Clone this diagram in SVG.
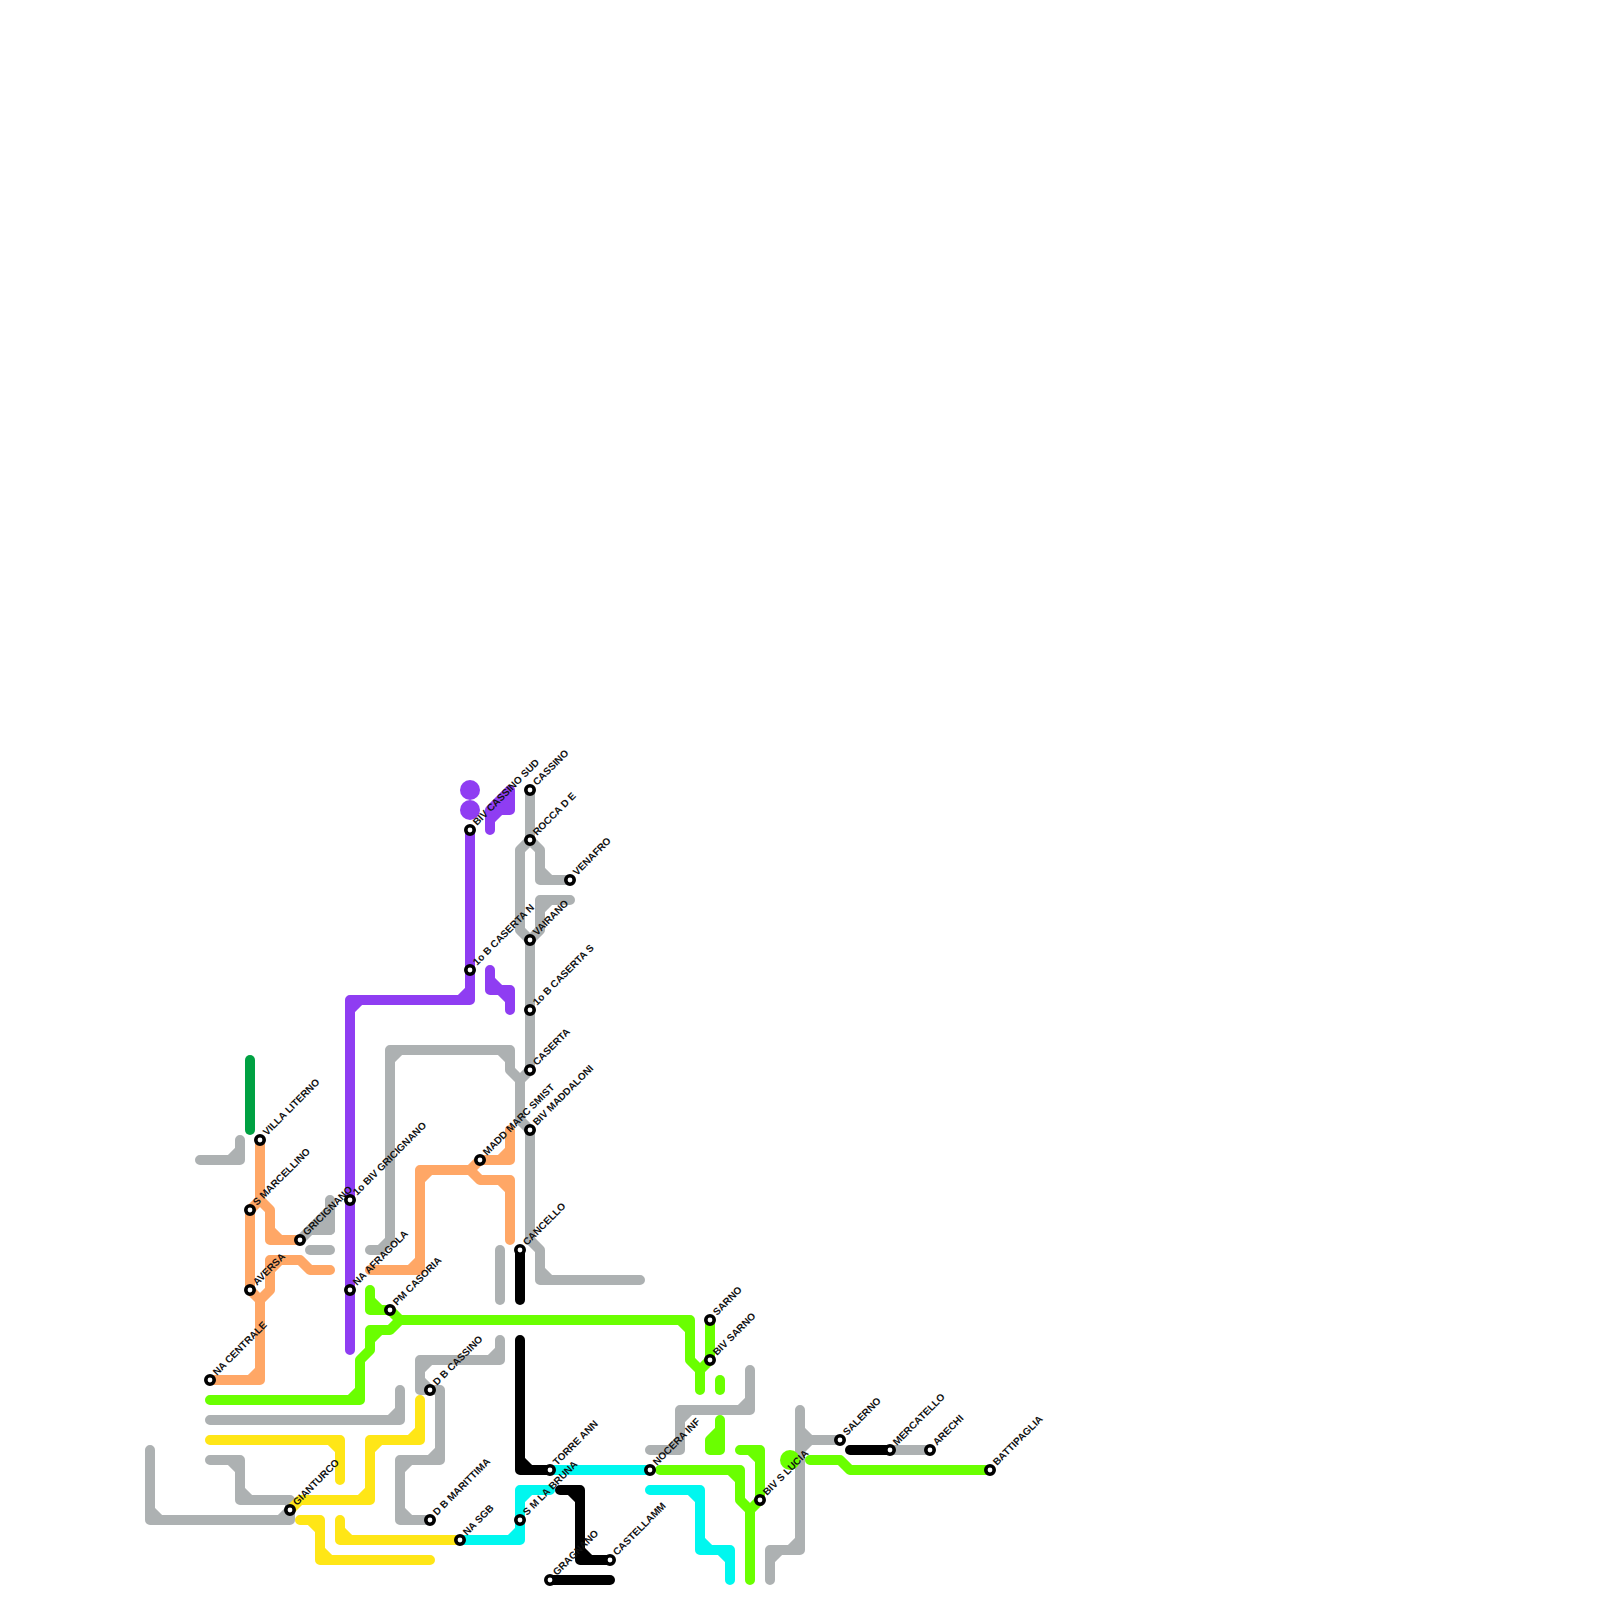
<svg xmlns="http://www.w3.org/2000/svg" width="1600" height="1600" viewBox="0 0 1600 1600">
<style>
.l{fill:none;stroke-width:10;stroke-linecap:round;stroke-linejoin:round}
.gray{stroke:#adb1b2}.orange{stroke:#ffa766}.dgreen{stroke:#00a142}.purple{stroke:#8f3df2}.green{stroke:#6aff00}.yellow{stroke:#ffe617}.cyan{stroke:#00f7ef}.black{stroke:#000}
.st{fill:#fff;stroke:#000;stroke-width:3.6}
text{font-family:"Liberation Sans",Arial,sans-serif;font-size:10px;font-weight:700;fill:#111}
</style>
<rect width="1600" height="1600" fill="#fff"/>
<g id="connectors">
<path class="l dgreen" d="M250 1060V1130"/>
<path class="l gray" d="M200 1160H240V1140M230 1160L240 1150"/>
<path class="l gray" d="M300 1240L310 1230H330V1200"/>
<path d="M310 1230L330 1210V1230Z" fill="#adb1b2" stroke="#adb1b2" stroke-width="10" stroke-linejoin="round"/>
<path class="l gray" d="M310 1250H330"/>
<path class="l gray" d="M370 1250H380L390 1240V1050H510V1070L520 1080V1120L530 1130V1240L540 1250V1280H640M390 1060L400 1050M500 1050L510 1060M540 1270L550 1280M530 1070L520 1080"/>
<path class="l gray" d="M530 790V840L520 850V930L530 940V1070M530 840L540 850V880H570M540 870L550 880M530 940L540 930V900H570M540 910L550 900"/>
<path class="l gray" d="M500 1250V1300"/>
<path class="l gray" d="M210 1420H400V1390M390 1420L400 1410"/>
<path class="l gray" d="M210 1460H240V1500H290V1520H150V1450M230 1460L240 1470M240 1490L250 1500M150 1510L160 1520M280 1520L290 1510"/>
<path class="l gray" d="M430 1520H400V1460H440V1390H420V1360H500V1340M400 1510L410 1520M400 1470L410 1460M430 1460L440 1450M490 1360L500 1350M420 1370L430 1360M420 1380L430 1390"/>
<path class="l gray" d="M650 1450H680V1410H750V1370M670 1450L680 1440M680 1420L690 1410M740 1410L750 1400"/>
<path class="l gray" d="M800 1410V1550H770V1580M790 1550L800 1540M770 1560L780 1550M800 1430L810 1440H840M810 1440L800 1450"/>
<path class="l gray" d="M890 1450H930"/>
<path class="l orange" d="M260 1140V1200L250 1210V1290L260 1300V1380H210M250 1380L260 1370"/>
<path class="l orange" d="M260 1200L270 1210V1240H300M270 1230L280 1240"/>
<path class="l orange" d="M260 1300L270 1290V1260H300L310 1270H330M270 1270L280 1260"/>
<path class="l orange" d="M370 1270H420V1170H470L480 1160H510V1130M410 1270L420 1260M420 1180L430 1170M500 1160L510 1150"/>
<path class="l orange" d="M470 1170L480 1180H510V1240M500 1180L510 1190"/>
<path class="l purple" d="M350 1350V1000H470V830M350 1010L360 1000M460 1000L470 990"/>
<path class="l purple" d="M490 830V810L510 790V810H500L490 820" style="fill:#8f3df2"/>
<path class="l purple" d="M490 970V990H510V1010M490 980L500 990M500 990L510 1000"/>
<circle cx="470" cy="790" r="10" fill="#8f3df2"/>
<circle cx="470" cy="810" r="10" fill="#8f3df2"/>
<path class="l green" d="M370 1290V1310H390L400 1320H690V1360L700 1370V1390M370 1300L380 1310M680 1320L690 1330M700 1370L710 1360V1320"/>
<path class="l green" d="M400 1320L390 1330H370V1350L360 1360V1400H210M370 1340L380 1330M350 1400L360 1390"/>
<path class="l green" d="M720 1380V1390"/>
<path class="l green" d="M720 1420V1450H710V1440L720 1430"/>
<path class="l green" d="M660 1470H740V1500L750 1510V1580M730 1470L740 1480M750 1510L760 1500V1450H740M750 1450L760 1460"/>
<circle cx="790" cy="1460" r="10" fill="#6aff00"/>
<path class="l green" d="M810 1460H840L850 1470H990"/>
<path class="l yellow" d="M210 1440H340V1480M330 1440L340 1450"/>
<path class="l yellow" d="M290 1510L300 1500H370V1440H420V1400M360 1500L370 1490M370 1450L380 1440M410 1440L420 1430"/>
<path class="l yellow" d="M300 1520H320V1560H430M310 1520L320 1530M320 1550L330 1560"/>
<path class="l yellow" d="M340 1520V1540H460M340 1530L350 1540"/>
<path class="l black" d="M520 1250V1300"/>
<path class="l black" d="M520 1340V1470H550M520 1460L530 1470"/>
<path class="l black" d="M560 1490H580V1560H610M570 1490L580 1500M580 1550L590 1560"/>
<path class="l black" d="M550 1580H610"/>
<path class="l black" d="M850 1450H890"/>
<path class="l cyan" d="M550 1470H650"/>
<path class="l cyan" d="M460 1540H520V1490H550M510 1540L520 1530M520 1500L530 1490"/>
<path class="l cyan" d="M650 1490H700V1550H730V1580M690 1490L700 1500M700 1540L710 1550M720 1550L730 1560"/>
</g>
<g id="node-villa-literno"><circle class="st" cx="260" cy="1140" r="4.2"/><text transform="translate(267 1136) rotate(-45)">VILLA LITERNO</text></g>
<g id="node-s-marcellino"><circle class="st" cx="250" cy="1210" r="4.2"/><text transform="translate(257 1206) rotate(-45)">S MARCELLINO</text></g>
<g id="node-gricignano"><circle class="st" cx="300" cy="1240" r="4.2"/><text transform="translate(307 1236) rotate(-45)">GRICIGNANO</text></g>
<g id="node-1o-biv-gricignano"><circle class="st" cx="350" cy="1200" r="4.2"/><text transform="translate(357 1196) rotate(-45)">1o BIV GRICIGNANO</text></g>
<g id="node-aversa"><circle class="st" cx="250" cy="1290" r="4.2"/><text transform="translate(257 1286) rotate(-45)">AVERSA</text></g>
<g id="node-na-afragola"><circle class="st" cx="350" cy="1290" r="4.2"/><text transform="translate(357 1286) rotate(-45)">NA AFRAGOLA</text></g>
<g id="node-pm-casoria"><circle class="st" cx="390" cy="1310" r="4.2"/><text transform="translate(397 1306) rotate(-45)">PM CASORIA</text></g>
<g id="node-na-centrale"><circle class="st" cx="210" cy="1380" r="4.2"/><text transform="translate(217 1376) rotate(-45)">NA CENTRALE</text></g>
<g id="node-gianturco"><circle class="st" cx="290" cy="1510" r="4.2"/><text transform="translate(297 1506) rotate(-45)">GIANTURCO</text></g>
<g id="node-d-b-cassino"><circle class="st" cx="430" cy="1390" r="4.2"/><text transform="translate(437 1386) rotate(-45)">D B CASSINO</text></g>
<g id="node-d-b-marittima"><circle class="st" cx="430" cy="1520" r="4.2"/><text transform="translate(437 1516) rotate(-45)">D B MARITTIMA</text></g>
<g id="node-na-sgb"><circle class="st" cx="460" cy="1540" r="4.2"/><text transform="translate(467 1536) rotate(-45)">NA SGB</text></g>
<g id="node-s-m-la-bruna"><circle class="st" cx="520" cy="1520" r="4.2"/><text transform="translate(527 1516) rotate(-45)">S M LA BRUNA</text></g>
<g id="node-torre-ann"><circle class="st" cx="550" cy="1470" r="4.2"/><text transform="translate(557 1466) rotate(-45)">TORRE ANN</text></g>
<g id="node-nocera-inf"><circle class="st" cx="650" cy="1470" r="4.2"/><text transform="translate(657 1466) rotate(-45)">NOCERA INF</text></g>
<g id="node-gragnano"><circle class="st" cx="550" cy="1580" r="4.2"/><text transform="translate(557 1576) rotate(-45)">GRAGNANO</text></g>
<g id="node-castellamm"><circle class="st" cx="610" cy="1560" r="4.2"/><text transform="translate(617 1556) rotate(-45)">CASTELLAMM</text></g>
<g id="node-sarno"><circle class="st" cx="710" cy="1320" r="4.2"/><text transform="translate(717 1316) rotate(-45)">SARNO</text></g>
<g id="node-biv-sarno"><circle class="st" cx="710" cy="1360" r="4.2"/><text transform="translate(717 1356) rotate(-45)">BIV SARNO</text></g>
<g id="node-biv-s-lucia"><circle class="st" cx="760" cy="1500" r="4.2"/><text transform="translate(767 1496) rotate(-45)">BIV S LUCIA</text></g>
<g id="node-salerno"><circle class="st" cx="840" cy="1440" r="4.2"/><text transform="translate(847 1436) rotate(-45)">SALERNO</text></g>
<g id="node-mercatello"><circle class="st" cx="890" cy="1450" r="4.2"/><text transform="translate(897 1446) rotate(-45)">MERCATELLO</text></g>
<g id="node-arechi"><circle class="st" cx="930" cy="1450" r="4.2"/><text transform="translate(937 1446) rotate(-45)">ARECHI</text></g>
<g id="node-battipaglia"><circle class="st" cx="990" cy="1470" r="4.2"/><text transform="translate(997 1466) rotate(-45)">BATTIPAGLIA</text></g>
<g id="node-cancello"><circle class="st" cx="520" cy="1250" r="4.2"/><text transform="translate(527 1246) rotate(-45)">CANCELLO</text></g>
<g id="node-madd-marc-smist"><circle class="st" cx="480" cy="1160" r="4.2"/><text transform="translate(487 1156) rotate(-45)">MADD MARC SMIST</text></g>
<g id="node-biv-maddaloni"><circle class="st" cx="530" cy="1130" r="4.2"/><text transform="translate(537 1126) rotate(-45)">BIV MADDALONI</text></g>
<g id="node-caserta"><circle class="st" cx="530" cy="1070" r="4.2"/><text transform="translate(537 1066) rotate(-45)">CASERTA</text></g>
<g id="node-1o-b-caserta-s"><circle class="st" cx="530" cy="1010" r="4.2"/><text transform="translate(537 1006) rotate(-45)">1o B CASERTA S</text></g>
<g id="node-vairano"><circle class="st" cx="530" cy="940" r="4.2"/><text transform="translate(537 936) rotate(-45)">VAIRANO</text></g>
<g id="node-venafro"><circle class="st" cx="570" cy="880" r="4.2"/><text transform="translate(577 876) rotate(-45)">VENAFRO</text></g>
<g id="node-rocca-d-e"><circle class="st" cx="530" cy="840" r="4.2"/><text transform="translate(537 836) rotate(-45)">ROCCA D E</text></g>
<g id="node-cassino"><circle class="st" cx="530" cy="790" r="4.2"/><text transform="translate(537 786) rotate(-45)">CASSINO</text></g>
<g id="node-biv-cassino-sud"><circle class="st" cx="470" cy="830" r="4.2"/><text transform="translate(477 826) rotate(-45)">BIV CASSINO SUD</text></g>
<g id="node-1o-b-caserta-n"><circle class="st" cx="470" cy="970" r="4.2"/><text transform="translate(477 966) rotate(-45)">1o B CASERTA N</text></g>
</svg>
